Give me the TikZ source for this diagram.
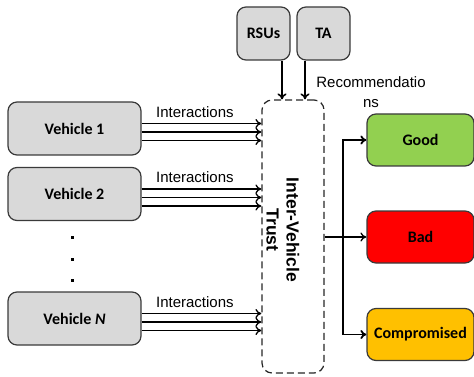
\documentclass[tikz,border=0pt]{standalone}
\usepackage{fontspec}
\setmainfont{Liberation Sans}
\newfontfamily\boxfont{Carlito}
\usetikzlibrary{arrows.meta,calc}
\definecolor{boxgray}{HTML}{D9D9D9}
\definecolor{edgegray}{HTML}{3A3A3A}
\definecolor{goodgreen}{HTML}{92D050}
\definecolor{badred}{HTML}{FF0000}
\definecolor{compamber}{HTML}{FFC000}

\begin{document}
\begin{tikzpicture}[x=1pt,y=-1pt,
  entity/.style={draw=edgegray,line width=1.2pt,rounded corners=9pt,fill=boxgray,
    minimum width=133pt,minimum height=53pt,font=\boxfont\bfseries\fontsize{16}{18}\selectfont},
  source/.style={entity,minimum width=53pt,minimum height=53pt},
  verdict/.style={entity,minimum width=107pt,minimum height=52pt},
  flow/.style={-{To[length=6pt,width=9pt]},line width=1.3pt},
  txt/.style={font=\fontsize{15}{20}\selectfont}]
  \useasboundingbox (0,0) rectangle (474,377);
  % vehicles
  \node[entity] (v1) at (74.5,128.5) {Vehicle 1};
  \node[entity] (v2) at (74.5,194) {Vehicle 2};
  \node[entity] (vn) at (74.5,318.5) {Vehicle \textit{N}};
  \foreach \y in {237,259,280} \fill (70.5,\y-1.5) rectangle ++(3,3);
  % infrastructure
  \node[source] (rsu) at (263.5,33.5) {RSUs};
  \node[source] (ta) at (323.5,33.5) {TA};
  % trust block
  \node[draw=black!85,line width=1.2pt,dash pattern=on 7pt off 4pt,rounded corners=10pt,
    minimum width=62pt,minimum height=273pt] (trust) at (293,236.5) {};
  \node[rotate=-90,align=center,font=\bfseries\fontsize{17.5}{20}\selectfont] (trustlbl) at (283,230) {Inter-Vehicle\\Trust};
  % interactions
  \foreach \v in {v1,v2,vn} {
    \foreach \s in {5,-3.5,-12}
      \draw[flow] ([yshift=\s pt]\v.east) -- ([yshift=\s pt]\v.east -| trust.west);
    \node[txt,anchor=west] (lbl\v) at ([xshift=11pt,yshift=16.5pt]\v.east) {Interactions};
  }
  % recommendations
  \draw[flow,line width=1.6pt] ([xshift=18.5pt]rsu.south) -- ([xshift=18.5pt]rsu.south |- trust.north);
  \draw[flow,line width=1.6pt] ([xshift=-18.5pt]ta.south) -- ([xshift=-18.5pt]ta.south |- trust.north);
  \node[txt,align=center] (rec) at (371,92) {Recommendatio\\ns};
  % outcomes
  \node[verdict,fill=goodgreen] (good) at (420.5,140) {Good};
  \node[verdict,fill=badred] (bad) at (420.5,237) {Bad};
  \node[verdict,fill=compamber] (comp) at (420.5,334.5) {Compromised};
  \coordinate (split) at (343,237);
  \draw[line width=2.4pt] (trust.east |- split) -- (split);
  \draw[flow,line width=1.8pt] (split) |- (good.west);
  \draw[flow,line width=1.8pt] (split) |- (comp.west);
  \draw[flow] (split) -- (bad.west);
\end{tikzpicture}
\end{document}
